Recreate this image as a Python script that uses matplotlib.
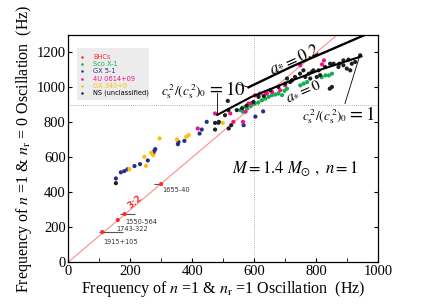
import matplotlib
matplotlib.use('Agg')
import matplotlib.pyplot as plt
from matplotlib.patches import Rectangle

plt.rcParams['font.family'] = ['Liberation Serif', 'DejaVu Serif']
plt.rcParams['mathtext.fontset'] = 'stix'

# BHC high-frequency QPO pairs (3:2)
bhc_x = [109, 159, 181, 299]
bhc_y = [171, 240, 274, 446]
bhc_lo = [97, 159, 165, 275]
bhc_hi = [177, 159, 215, 300]
bhc_names = ['1915+105', '1743-322', '1550-564', '1655-40']

sco_x = [554, 563, 570, 576, 588, 600, 612, 624, 635, 646, 656, 667, 677, 689,
         697, 705, 748, 759, 770, 817, 829, 840, 850]
sco_y = [869, 860, 888, 879, 893, 905, 912, 925, 935, 945, 954, 958, 964, 955,
         980, 992, 1011, 1021, 1030, 1058, 1068, 1068, 1078]

gx5_x = [153, 169, 180, 190, 213, 231, 256, 274, 277, 280, 353, 355, 374, 423,
         430, 446, 484, 565, 603, 628]
gx5_y = [478, 513, 520, 530, 549, 560, 581, 621, 636, 646, 674, 687, 693, 735,
         758, 802, 796, 783, 832, 862]

u0614_x = [417, 473, 522, 532, 563, 571, 581, 592, 602, 618, 635, 640, 657, 683,
           699, 721, 748, 818, 824]
u0614_y = [764, 850, 850, 802, 802, 860, 907, 910, 954, 964, 973, 964, 973, 983,
           1011, 1040, 1126, 1131, 1154]

gx340_x = [197, 245, 250, 267, 273, 294, 350, 380, 388, 498]
gx340_y = [531, 602, 550, 625, 611, 707, 701, 716, 726, 796]

ns_x = [153, 473, 473, 485, 505, 514, 516, 517, 525, 543, 560, 575, 597, 613,
        630, 651, 677, 699, 705, 715, 721, 731, 747, 758, 764, 775, 780, 785,
        790, 801, 807, 812, 828, 843, 844, 850, 855, 871, 874, 887, 887, 898,
        903, 909, 914, 925, 941]
ns_y = [451, 796, 758, 802, 840, 922, 869, 764, 783, 869, 880, 895, 916, 945,
        950, 983, 1002, 1021, 1050, 1030, 1040, 1059, 1078, 1097, 1059, 1078,
        1050, 1087, 1097, 1059, 1097, 1069, 1116, 992, 1135, 1002, 1135, 1116,
        1135, 1154, 1126, 1107, 1158, 1097, 1135, 1145, 1183]

# model curves
a0_x = [480, 590, 700, 820, 945]
a0_y = [842, 945, 1025, 1105, 1177]
a02_x = [581, 716, 960]
a02_y = [1000, 1115, 1303]

ratio_x = [0, 1000]
ratio_y = [0, 1500]

groups = [
    ('BHCs', bhc_x, bhc_y, '#ff2a2a'),
    ('Sco X-1', sco_x, sco_y, '#10b050'),
    ('GX 5-1', gx5_x, gx5_y, '#2c2c8c'),
    ('4U 0614+09', u0614_x, u0614_y, '#f0108c'),
    ('GX 340+0', gx340_x, gx340_y, '#ffc000'),
    ('NS (unclassified)', ns_x, ns_y, '#202020'),
]

fig = plt.figure(figsize=(4.36, 3.06), dpi=100)
ax = fig.add_axes([0.157, 0.144, 0.711, 0.742])

ax.plot(ratio_x, ratio_y, color='#ff8c8c', lw=0.8, zorder=1)
ax.axhline(900, color='#999999', lw=0.6, ls=(0, (1, 1.5)), zorder=0)
ax.axvline(600, color='#999999', lw=0.6, ls=(0, (1, 1.5)), zorder=0)

ax.hlines(bhc_y, bhc_lo, bhc_hi, color='#555555', lw=0.8, zorder=2)
for name, xs, ys, c in groups:
    ax.scatter(xs, ys, s=9, color=c, edgecolors='none', zorder=3)

offs = [(0.7, -5), (-0.7, -4), (0.5, -3.4), (0.5, -2.2)]
for x, y, name, o in zip(bhc_x, bhc_y, bhc_names, offs):
    ax.annotate(name, (x, y), xytext=o, textcoords='offset points',
                fontsize=4.8, family='DejaVu Sans', color='#333333',
                ha='left', va='top')
ax.text(214, 345, '3:2', color='#ff3030', fontsize=6.5, rotation=40,
        family='DejaVu Sans', ha='center', va='center', fontweight='bold')

ax.plot(a0_x, a0_y, color='black', lw=1.5, zorder=4)
ax.plot(a02_x, a02_y, color='black', lw=1.7, zorder=4)

# leaders
ax.plot([479, 479], [966, 842], color='black', lw=0.6)
ax.plot([549, 581], [1017, 1000], color='black', lw=0.6)
ax.plot([939, 892], [1177, 907], color='black', lw=0.6)

ax.text(444, 955, r'$c_{\rm s}^{\,2}/(c_{\rm s}^{\,2})_0$', fontsize=9.5,
        ha='right', va='baseline')
ax.text(446, 955, r'$=10$', fontsize=13.5, ha='left', va='baseline')
ax.text(898, 810, r'$c_{\rm s}^{\,2}/(c_{\rm s}^{\,2})_0$', fontsize=9.5,
        ha='right', va='baseline')
ax.text(900, 810, r'$=1$', fontsize=13.5, ha='left', va='baseline')
ax.text(727, 1162, r'$a_{*} = 0.2$', fontsize=12, rotation=24,
        ha='center', va='center')
ax.text(756, 983, r'$a_{*} = 0$', fontsize=11, rotation=24,
        ha='center', va='center')
ax.text(731, 537, r'$M = 1.4\ M_{\odot}\ ,\ n = 1$', fontsize=12,
        ha='center', va='center')

# legend box
ax.add_patch(Rectangle((0.027, 0.714), 0.234, 0.229, transform=ax.transAxes,
                       facecolor='#ececec', edgecolor='none', zorder=5))
for i, (name, xs, ys, c) in enumerate(groups):
    yy = 0.903 - i * 0.0318
    ax.plot([0.043], [yy], 'o', ms=1.8, color=c, mec='none',
            transform=ax.transAxes, zorder=6)
    ax.text(0.08, yy, name, fontsize=4.8, family='DejaVu Sans',
            color=c if name != 'NS (unclassified)' else 'black',
            ha='left', va='center', transform=ax.transAxes, zorder=6)

ax.set_xlim(0, 1000)
ax.set_ylim(0, 1300)
ax.set_xticks(range(0, 1001, 200))
ax.set_xticks(range(0, 1001, 100), minor=True)
ax.set_yticks(range(0, 1201, 200))
ax.tick_params(which='both', direction='in', right=True, labelsize=10.5,
               length=3, pad=2)
ax.tick_params(which='minor', length=3)
for s in ax.spines.values():
    s.set_linewidth(0.9)

ax.set_xlabel(r'Frequency of $n$ =1 & $n_{\rm r}$ =1 Oscillation  (Hz)',
              fontsize=11.5, labelpad=1)
ax.set_ylabel(r'Frequency of $n$ =1 & $n_{\rm r}$ = 0 Oscillation  (Hz)',
              fontsize=11.5, labelpad=2)

fig.savefig('out.png', dpi=100)
